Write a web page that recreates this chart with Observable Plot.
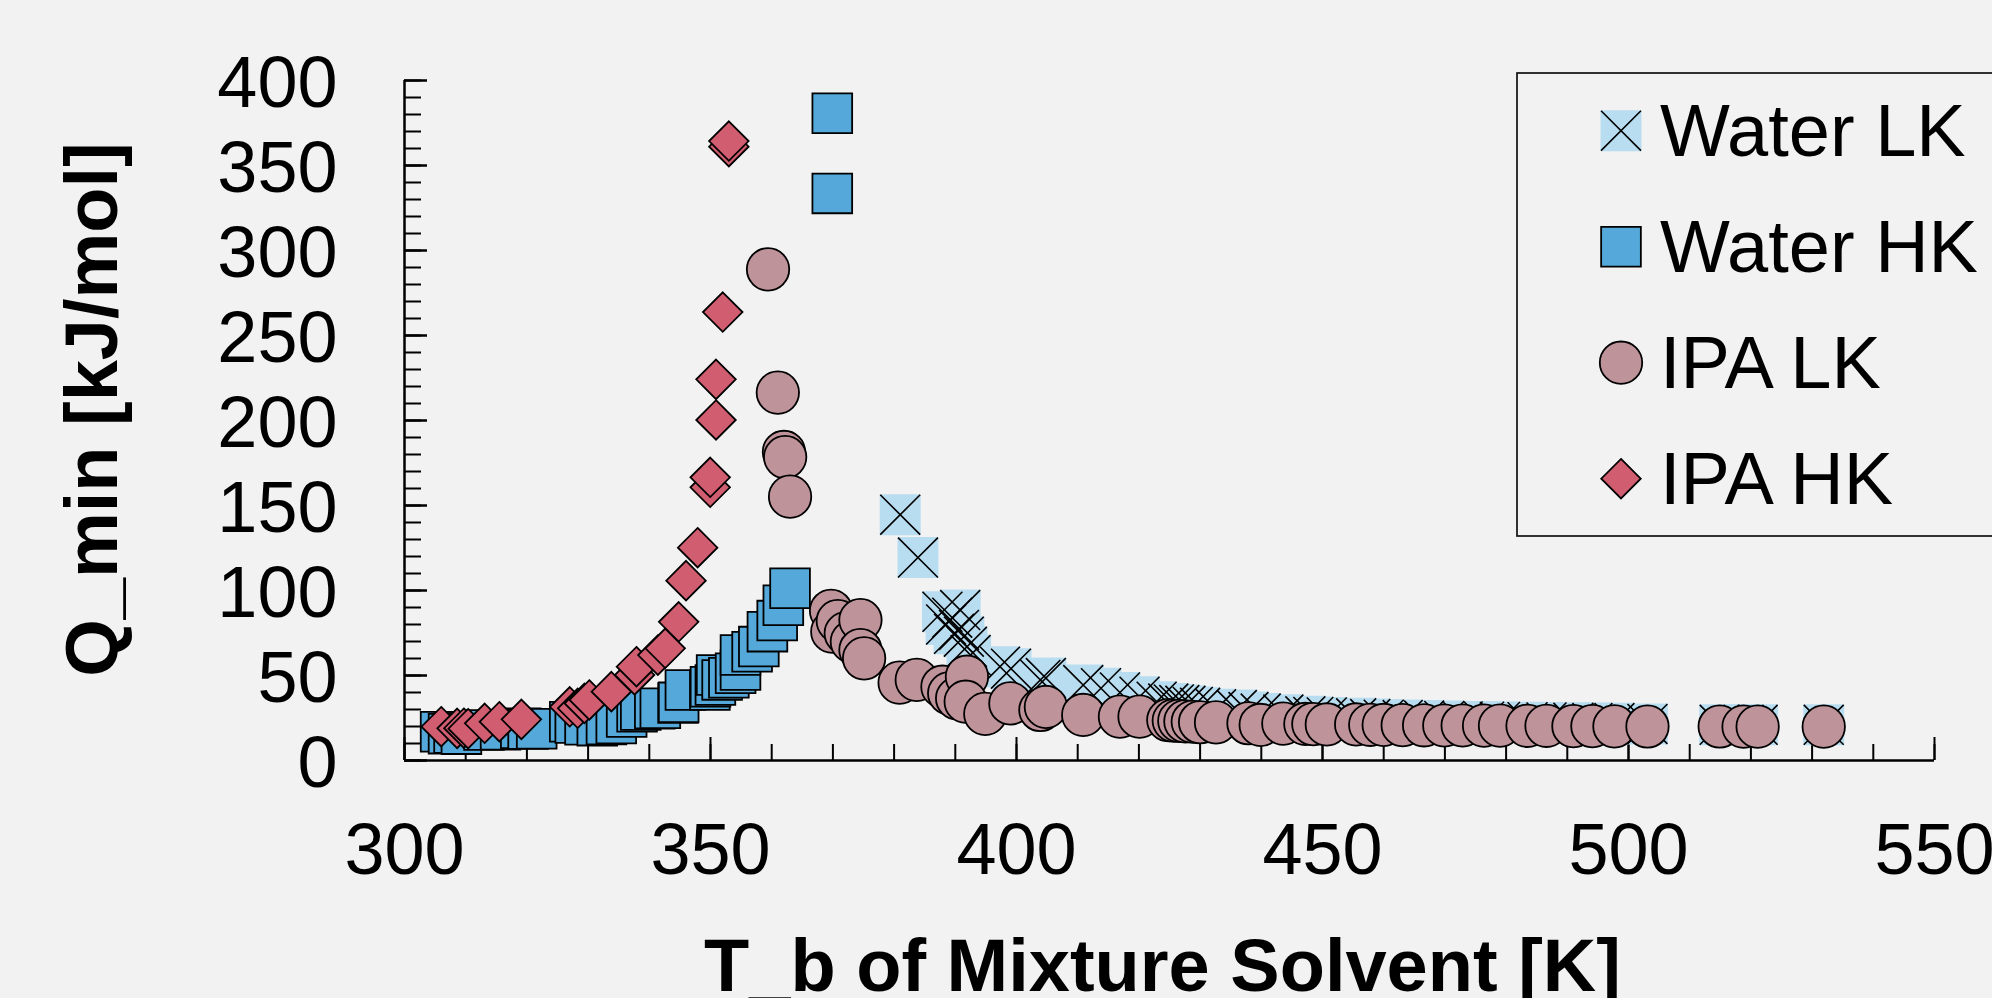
<!DOCTYPE html>
<html><head><meta charset="utf-8">
<script src="https://cdn.jsdelivr.net/npm/d3@7"></script>
<script src="https://cdn.jsdelivr.net/npm/@observablehq/plot@0.6"></script>
<style>
html,body{margin:0;padding:0;background:#f2f2f2;}
#wrap{position:relative;width:1992px;height:998px;overflow:hidden;background:#f2f2f2;}
#wrap svg{display:block;}
</style></head><body><div id="wrap"></div>
<script>
// ---------- data ----------
const seriesNames = ["Water LK", "Water HK", "IPA LK", "IPA HK"];

const waterLK_T = [381.0, 383.9, 387.9, 388.5, 389.5, 390.8, 389.8, 390.6, 391.4, 391.9, 392.5, 397.3, 399.1, 403.9, 404.8, 410.9, 413.8, 416.9, 420.1, 422.9, 424.8, 425.7, 426.6, 427.6, 428.8, 430.0, 432.6, 436.0, 437.9, 439.9, 443.6, 447.2, 448.5, 450.7, 455.5, 457.8, 460.0, 463.1, 466.6, 469.9, 472.9, 476.4, 479.0, 483.5, 486.6, 491.0, 494.1, 497.7, 503.1, 514.9, 518.8, 521.1, 531.9];
const waterLK_Q = [144.6, 119.4, 87.5, 80.0, 84.0, 88.5, 74.5, 76.8, 72.8, 66.9, 62.0, 55.2, 54.0, 47.4, 48.5, 44.4, 42.5, 40.0, 37.5, 34.6, 33.5, 33.0, 32.6, 32.2, 31.5, 31.0, 30.1, 29.7, 28.5, 27.6, 27.0, 26.0, 25.6, 25.3, 24.8, 24.4, 24.0, 23.8, 23.5, 23.3, 23.0, 22.8, 22.7, 22.5, 22.4, 22.2, 22.1, 22.0, 21.5, 21.0, 21.0, 21.0, 21.0];

const waterHK_T = [305.9, 307.2, 308.1, 309.3, 313.0, 315.7, 319.0, 320.2, 321.6, 327.0, 327.9, 329.5, 331.5, 333.0, 334.6, 336.3, 338.0, 338.6, 340.9, 341.8, 344.7, 344.8, 345.9, 349.9, 350.0, 350.8, 351.0, 351.9, 353.0, 354.1, 354.9, 354.9, 356.8, 357.9, 359.3, 360.9, 361.9, 363.0, 369.9, 369.9];
const waterHK_Q = [16.9, 15.8, 16.2, 15.5, 17.9, 18.1, 18.9, 18.5, 18.7, 22.8, 22.0, 21.0, 20.5, 21.2, 21.7, 25.6, 28.7, 29.7, 30.5, 30.7, 33.8, 34.2, 41.5, 41.5, 43.4, 44.4, 50.3, 47.4, 48.7, 51.3, 53.2, 62.1, 64.0, 67.0, 75.8, 82.3, 91.3, 101.3, 333.6, 380.7];

const ipaLK_T = [359.4, 361.0, 362.0, 362.2, 363.0, 369.7, 369.9, 370.8, 372.1, 373.1, 374.5, 374.5, 375.1, 380.9, 383.7, 387.9, 389.0, 390.3, 391.9, 391.7, 394.9, 399.0, 403.9, 404.8, 410.9, 416.9, 420.1, 424.8, 425.7, 426.6, 427.6, 428.8, 430.0, 432.6, 437.9, 439.9, 443.6, 447.2, 448.5, 450.7, 455.5, 457.8, 460.0, 463.1, 466.6, 469.9, 472.9, 476.4, 479.0, 483.5, 486.6, 491.0, 494.1, 497.7, 503.1, 514.9, 518.8, 521.1, 531.9];
const ipaLK_Q = [288.9, 216.4, 181.5, 178.5, 155.2, 88.1, 75.8, 82.0, 74.8, 69.9, 82.6, 65.0, 60.1, 45.8, 47.4, 43.4, 39.5, 36.6, 49.3, 34.6, 27.4, 33.6, 29.7, 31.5, 26.8, 25.8, 25.8, 23.8, 23.5, 23.3, 23.0, 22.8, 22.5, 22.4, 21.9, 20.9, 21.7, 21.5, 21.4, 21.2, 21.2, 21.0, 20.9, 20.8, 20.7, 20.6, 20.6, 20.5, 20.5, 20.4, 20.4, 20.2, 20.2, 20.1, 20.0, 20.0, 19.9, 19.9, 19.9];

const ipaHK_T = [306.0, 308.6, 309.7, 310.4, 313.1, 315.5, 319.1, 327.0, 328.3, 329.4, 330.2, 333.8, 337.6, 337.9, 341.4, 342.6, 344.8, 346.0, 347.9, 349.95, 349.95, 350.9, 350.9, 352.0, 353.0, 353.0];
const ipaHK_Q = [19.9, 18.9, 19.0, 18.7, 21.9, 22.8, 24.2, 31.6, 30.7, 33.6, 35.6, 40.5, 50.3, 55.2, 62.0, 66.0, 81.6, 105.8, 125.2, 160.7, 166.6, 200.3, 224.2, 263.8, 361.1, 364.4];

const xTickLabels = [300, 350, 400, 450, 500, 550];
const yTickLabels = [0, 50, 100, 150, 200, 250, 300, 350, 400];
const xMinorTicks = d3.range(300, 551, 10);
const yMinorTicks = d3.range(0, 401, 10);
const xTitle = "T_b of Mixture Solvent [K]";
const yTitle = "Q_min [kJ/mol]";

const colors = {wLK: "#b9ddf0", wHK: "#55a9da", iLK: "#bf939a", iHK: "#d15e70"};
const rows = (Ts, Qs) => Ts.map((t, i) => ({T: t, Q: Qs[i]}));
const wLK = rows(waterLK_T, waterLK_Q);
const wHK = rows(waterHK_T, waterHK_Q);
const iLK = rows(ipaLK_T, ipaLK_Q);
const iHK = rows(ipaHK_T, ipaHK_Q);

// ---------- chart ----------
const W = 1992, H = 998, mL = 404, mR = 58, mT = 80, mB = 238;
const fw = W - mL - mR, fh = H - mT - mB;
const font = "'Liberation Sans', Arial, Helvetica, sans-serif";
const R = {sq: 22.4, sqFill: 23.1, times: 18.2, circ: 21.2, dia: 17.8};

const chart = Plot.plot({
  width: W, height: H,
  marginLeft: mL, marginRight: mR, marginTop: mT, marginBottom: mB,
  x: {domain: [300, 550], axis: null},
  y: {domain: [0, 400], axis: null},
  style: {background: "#f2f2f2", fontFamily: font, overflow: "visible", color: "#000"},
  marks: [
    // ticks
    Plot.tickX(xMinorTicks, {x: d => d, insetTop: fh - 16, stroke: "#000", strokeWidth: 2}),
    Plot.tickX(xTickLabels, {x: d => d, insetTop: fh - 23, stroke: "#000", strokeWidth: 2}),
    Plot.tickY(yMinorTicks, {y: d => d, insetRight: fw - 17, stroke: "#000", strokeWidth: 2}),
    Plot.tickY(yTickLabels, {y: d => d, insetRight: fw - 23, stroke: "#000", strokeWidth: 2.5}),
    // axis lines
    Plot.ruleY([0], {x1: 300, x2: 550, stroke: "#000", strokeWidth: 2.5}),
    Plot.ruleX([300], {y1: 0, y2: 400, stroke: "#000", strokeWidth: 2.5}),
    // tick labels
    Plot.text(yTickLabels, {x: 300, y: d => d, text: d => String(d), textAnchor: "end", lineAnchor: "middle", dx: -67, dy: 3, fontSize: 72, fill: "#000"}),
    Plot.text(xTickLabels, {x: d => d, y: 0, text: d => String(d), textAnchor: "middle", lineAnchor: "middle", dy: 90, fontSize: 72, fill: "#000"}),
    // axis titles
    Plot.text([yTitle], {text: d => d, frameAnchor: "left", rotate: -90, textAnchor: "middle", lineAnchor: "middle", dx: -311, dy: -11, fontSize: 74, fontWeight: "bold", fill: "#000"}),
    Plot.text([xTitle], {text: d => d, frameAnchor: "bottom", textAnchor: "middle", lineAnchor: "middle", dx: -7, dy: 207, fontSize: 74, fontWeight: "bold", fill: "#000"}),
    // series
    Plot.dot(wLK, {x: "T", y: "Q", symbol: "square", r: R.sqFill, fill: colors.wLK, stroke: "none"}),
    Plot.dot(wLK, {x: "T", y: "Q", symbol: "times", r: R.times, stroke: "#000", strokeWidth: 1.6, fill: "none"}),
    Plot.dot(wHK, {x: "T", y: "Q", symbol: "square", r: R.sq, fill: colors.wHK, stroke: "#000", strokeWidth: 1.8}),
    Plot.dot(iLK, {x: "T", y: "Q", symbol: "circle", r: R.circ, fill: colors.iLK, stroke: "#000", strokeWidth: 1.8}),
    Plot.dot(iHK, {x: "T", y: "Q", symbol: "diamond2", r: R.dia, fill: colors.iHK, stroke: "#000", strokeWidth: 1.8})
  ]
});
const wrap = document.getElementById("wrap");
wrap.appendChild(chart);

// ---------- legend ----------
const leg = d3.select(wrap).append("svg")
  .attr("width", W).attr("height", H)
  .style("position", "absolute").style("left", 0).style("top", 0)
  .style("pointer-events", "none");
leg.append("rect").attr("x", 1517).attr("y", 73).attr("width", 600).attr("height", 463)
  .attr("fill", "#f2f2f2").attr("stroke", "#111").attr("stroke-width", 1.7);
const area = r => Math.PI * r * r;
const legendItems = [
  {name: seriesNames[0], draw: g => {
    g.append("path").attr("d", d3.symbol(d3.symbolSquare, area(R.sqFill))()).attr("fill", colors.wLK);
    g.append("path").attr("d", d3.symbol(d3.symbolTimes, area(R.times))()).attr("fill", "none").attr("stroke", "#000").attr("stroke-width", 1.6);
  }},
  {name: seriesNames[1], draw: g => g.append("path").attr("d", d3.symbol(d3.symbolSquare, area(R.sq))()).attr("fill", colors.wHK).attr("stroke", "#000").attr("stroke-width", 1.8)},
  {name: seriesNames[2], draw: g => g.append("path").attr("d", d3.symbol(d3.symbolCircle, area(R.circ))()).attr("fill", colors.iLK).attr("stroke", "#000").attr("stroke-width", 1.8)},
  {name: seriesNames[3], draw: g => g.append("path").attr("d", d3.symbol(d3.symbolDiamond2, area(R.dia))()).attr("fill", colors.iHK).attr("stroke", "#000").attr("stroke-width", 1.8)}
];
legendItems.forEach((it, i) => {
  const cy = 130.7 + i * 116;
  const g = leg.append("g").attr("transform", `translate(1621,${cy})`);
  it.draw(g);
  leg.append("text").attr("x", 1660).attr("y", cy + 25).attr("font-family", font)
    .attr("font-size", 74).attr("fill", "#000").text(it.name);
});
</script></body></html>
